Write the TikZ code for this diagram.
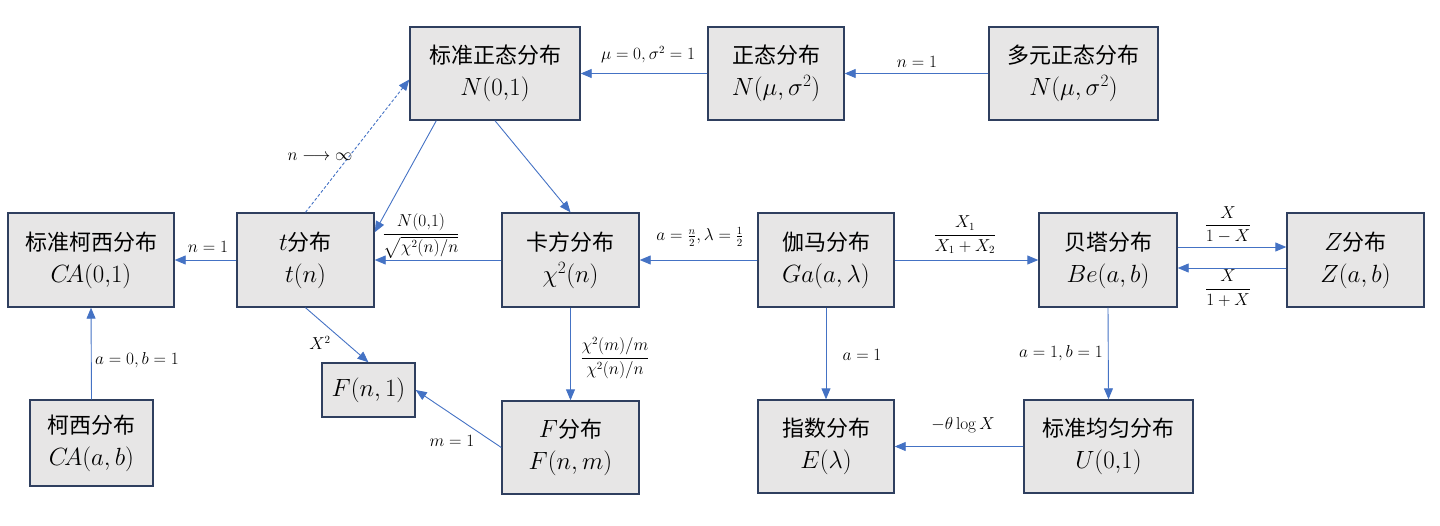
\documentclass[tikz,border=0pt]{standalone}
\usepackage[no-math]{fontspec}
\usepackage{amsmath}
\newfontfamily\cjk{Noto Sans CJK SC}
\usetikzlibrary{arrows.meta,calc}
\definecolor{boxfill}{HTML}{E7E6E6}
\definecolor{boxline}{HTML}{2F3F5F}
\definecolor{arrowblue}{HTML}{4472C4}
\newcommand{\bmath}[1]{{\fontsize{26}{31}\selectfont$#1$}}
\tikzset{
  dbox/.style={draw=boxline, line width=1.4pt, fill=boxfill, align=center, inner sep=0pt,
    font=\fontsize{22}{32}\selectfont},
  arr/.style={draw=arrowblue, line width=0.9pt, -{Triangle[length=11pt,width=9pt]}},
  dasharr/.style={arr, dash pattern=on 3pt off 2pt},
  lbl/.style={font=\fontsize{16}{19}\selectfont, inner sep=1pt},
}
\begin{document}
\begin{tikzpicture}[x=1pt,y=-1pt]
\useasboundingbox (0,0) rectangle (1440,525);
% boxes
\node[dbox, minimum width=170pt, minimum height=93pt] (SN) at (495,73.5) {{\cjk 标准正态分布}\\\bmath{N(0{,}1)}};
\node[dbox, minimum width=136pt, minimum height=93pt] (N) at (776,73.5) {{\cjk 正态分布}\\\bmath{N(\mu,\sigma^2)}};
\node[dbox, minimum width=169pt, minimum height=93pt] (MN) at (1073.5,73.5) {{\cjk 多元正态分布}\\\bmath{N(\mu,\sigma^2)}};
\node[dbox, minimum width=166pt, minimum height=94pt] (SC) at (91,260) {{\cjk 标准柯西分布}\\\bmath{C\!A(0{,}1)}};
\node[dbox, minimum width=137pt, minimum height=94pt] (T) at (305.5,260) {\bmath{t}{\cjk 分布}\\\bmath{t(n)}};
\node[dbox, minimum width=137pt, minimum height=94pt] (CHI) at (570.5,260) {{\cjk 卡方分布}\\\bmath{\chi^2(n)}};
\node[dbox, minimum width=136pt, minimum height=94pt] (GA) at (826,260) {{\cjk 伽马分布}\\\bmath{Ga(a,\lambda)}};
\node[dbox, minimum width=138pt, minimum height=94pt] (BE) at (1108,260) {{\cjk 贝塔分布}\\\bmath{Be(a,b)}};
\node[dbox, minimum width=137pt, minimum height=94pt] (Z) at (1355.5,260) {\bmath{Z}{\cjk 分布}\\\bmath{Z(a,b)}};
\node[dbox, minimum width=123pt, minimum height=86pt] (CA) at (91.5,443) {{\cjk 柯西分布}\\\bmath{C\!A(a,b)}};
\node[dbox, minimum width=93pt, minimum height=54pt] (F1) at (368.5,390) {\bmath{F(n,1)}};
\node[dbox, minimum width=137pt, minimum height=93pt] (F) at (570.5,447.5) {\bmath{F}{\cjk 分布}\\\bmath{F(n,m)}};
\node[dbox, minimum width=136pt, minimum height=93pt] (E) at (826,446.5) {{\cjk 指数分布}\\\bmath{E(\lambda)}};
\node[dbox, minimum width=169pt, minimum height=93pt] (U) at (1108.5,446.5) {{\cjk 标准均匀分布}\\\bmath{U(0{,}1)}};
% connectors
\draw[arr] (N.west) -- (SN.east);
\draw[arr] (MN.west) -- (N.east);
\draw[dasharr] (T.north) -- ($(SN.west)+(0,6)$);
\draw[arr] ($(SN.south west)+(27,0)$) -- ($(T.north east)+(0,20)$);
\draw[arr] (SN.south) -- (CHI.north);
\draw[arr] (CHI.west) -- (T.east);
\draw[arr] (T.west) -- (SC.east);
\draw[arr] (CA.north) -- (SC.south);
\draw[arr] (T.south) -- (F1.north);
\draw[arr] (F.west) -- (F1.east);
\draw[arr] (CHI.south) -- (F.north);
\draw[arr] (GA.west) -- (CHI.east);
\draw[arr] (GA.east) -- (BE.west);
\draw[arr] (GA.south) -- (E.north);
\draw[arr] (U.west) -- (E.east);
\draw[arr] (BE.south) -- (U.north);
\draw[arr] ($(BE.east)+(0,-13)$) -- ($(Z.west)+(0,-13)$);
\draw[arr] ($(Z.west)+(0,8)$) -- ($(BE.east)+(0,8)$);
% labels
\node[lbl] (l1) at (648,55) {$\mu = 0, \sigma^2 = 1$};
\node[lbl] (l2) at (917,62) {$n = 1$};
\node[lbl] (l3) at (320,157) {$n \longrightarrow \infty$};
\node[lbl] (l4) at (421,236) {$\displaystyle\frac{N(0{,}1)}{\sqrt{\chi^2(n)/n}}$};
\node[lbl] (l5) at (208,247) {$n = 1$};
\node[lbl] (l6) at (137,360) {$a = 0, b = 1$};
\node[lbl] (l7) at (320,343) {$X^2$};
\node[lbl] (l8) at (452,441) {$m = 1$};
\node[lbl] (l9) at (615,358) {$\displaystyle\frac{\chi^2(m)/m}{\chi^2(n)/n}$};
\node[lbl] (l10) at (862,355) {$a = 1$};
\node[lbl] (l11) at (700,237) {$a = \tfrac{n}{2}, \lambda = \tfrac{1}{2}$};
\node[lbl] (l12) at (965,235) {$\displaystyle\frac{X_1}{X_1 + X_2}$};
\node[lbl] (l13) at (1228,225) {$\displaystyle\frac{X}{1 - X}$};
\node[lbl] (l14) at (1228,288) {$\displaystyle\frac{X}{1 + X}$};
\node[lbl] (l15) at (1061,353) {$a = 1, b = 1$};
\node[lbl] (l16) at (963,425) {$-\theta\log X$};
\end{tikzpicture}
\end{document}
